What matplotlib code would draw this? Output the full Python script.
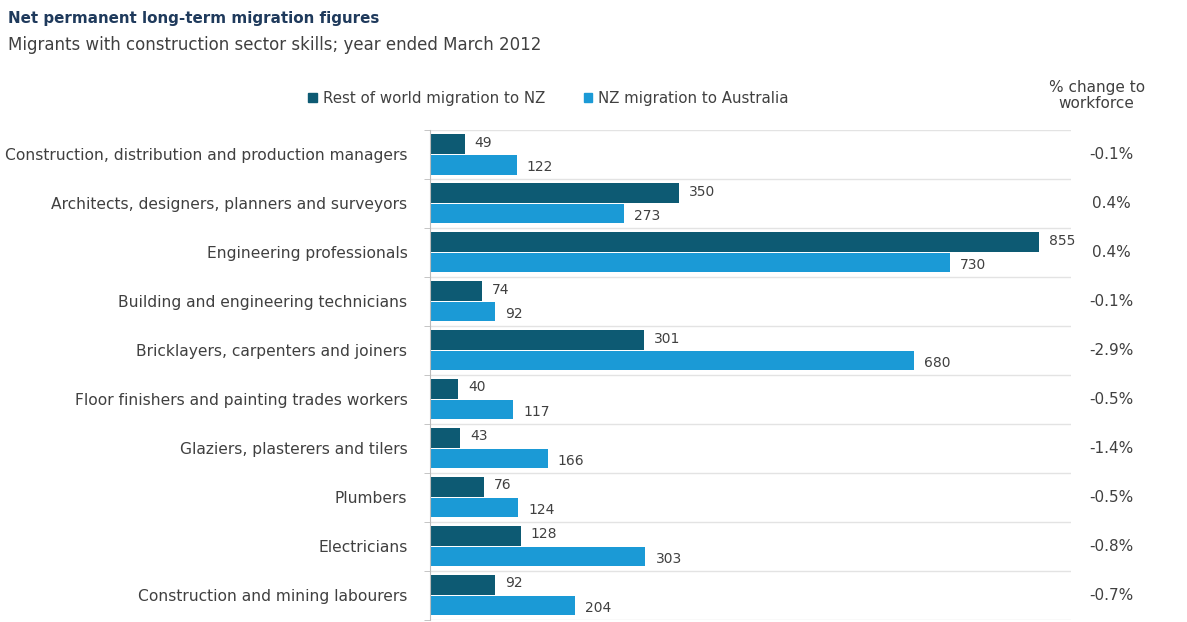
import numpy as np
import matplotlib.pyplot as plt

# ============================================================================
# Data
# ============================================================================
categories = [
    "Construction, distribution and production managers",
    "Architects, designers, planners and surveyors",
    "Engineering professionals",
    "Building and engineering technicians",
    "Bricklayers, carpenters and joiners",
    "Floor finishers and painting trades workers",
    "Glaziers, plasterers and tilers",
    "Plumbers",
    "Electricians",
    "Construction and mining labourers",
]
rest_of_world = [49, 350, 855, 74, 301, 40, 43, 76, 128, 92]
nz_to_aus = [122, 273, 730, 92, 680, 117, 166, 124, 303, 204]
pct_change = ["-0.1%", "0.4%", "0.4%", "-0.1%", "-2.9%",
              "-0.5%", "-1.4%", "-0.5%", "-0.8%", "-0.7%"]

DARK = "#0d5a73"
LIGHT = "#1b9ad6"
TEXT = "#404040"

plt.rcParams['font.family'] = ['DejaVu Sans']

fig = plt.figure(figsize=(11.87, 6.22), dpi=100)
ax = fig.add_axes([0.362, 0.004, 0.540, 0.787])

n = len(categories)
y = np.arange(n)
h = 0.4
ax.barh(y - h / 2 - 0.01, rest_of_world, height=h, color=DARK)
ax.barh(y + h / 2 + 0.01, nz_to_aus, height=h, color=LIGHT)

for i in range(n):
    ax.text(rest_of_world[i] + 14, y[i] - h / 2 - 0.04, str(rest_of_world[i]),
            va='center', ha='left', fontsize=10, color=TEXT)
    ax.text(nz_to_aus[i] + 14, y[i] + h / 2 + 0.06, str(nz_to_aus[i]),
            va='center', ha='left', fontsize=10, color=TEXT)
    ax.text(1.064, y[i], pct_change[i], transform=ax.get_yaxis_transform(),
            va='center', ha='center', fontsize=11, color=TEXT)

ax.set_xlim(0, 900)
ax.set_ylim(n - 0.5, -0.5)

# category labels
ax.set_yticks(y)
ax.set_yticklabels(categories, fontsize=11.2, color=TEXT)
ax.tick_params(axis='y', which='major', length=0, pad=16)
ax.set_xticks([])

# band separators
ax.set_yticks(np.arange(n + 1) - 0.5, minor=True)
ax.tick_params(axis='y', which='minor', length=4, color='#bbbbbb')
ax.grid(True, axis='y', which='minor', color='#e3e3e3', linewidth=1)
ax.set_axisbelow(True)

for side in ['top', 'right', 'bottom']:
    ax.spines[side].set_visible(False)
ax.spines['left'].set_color('#bbbbbb')

# titles
fig.text(0.007, 0.970, "Net permanent long-term migration figures",
         fontsize=10.9, fontweight='bold', color='#1f3a5c', va='center')
fig.text(0.007, 0.927, "Migrants with construction sector skills; year ended March 2012",
         fontsize=12, color=TEXT, va='center')

# legend
fig.legend(handles=[plt.Rectangle((0, 0), 1, 1, color=DARK),
                    plt.Rectangle((0, 0), 1, 1, color=LIGHT)],
           labels=["Rest of world migration to NZ", "NZ migration to Australia"],
           loc='center', bbox_to_anchor=(0.462, 0.842), ncol=2, frameon=False,
           fontsize=10.8, handlelength=0.55, handleheight=0.55, handletextpad=0.4,
           columnspacing=2.6, labelcolor=TEXT)

fig.text(0.924, 0.846, "% change to\nworkforce", fontsize=11, color=TEXT,
         ha='center', va='center', linespacing=1.1)

fig.savefig("out.png", dpi=100)
